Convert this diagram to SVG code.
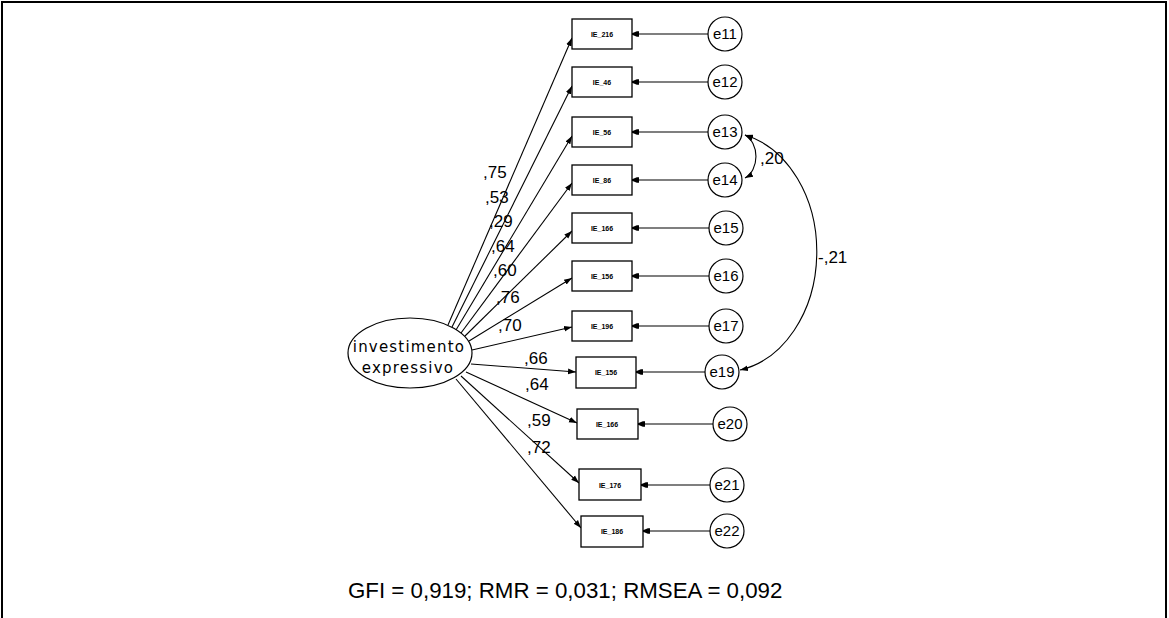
<svg xmlns="http://www.w3.org/2000/svg" width="1169" height="618" viewBox="0 0 1169 618">
<style>
.bx{fill:#fff;stroke:#000;stroke-width:1.3}
.er{fill:#fff;stroke:#000;stroke-width:1.2}
.ln{fill:none;stroke:#000;stroke-width:1.1}
.bt{font-family:"Liberation Sans",Arial,sans-serif;font-size:7px;font-weight:bold;text-anchor:middle;fill:#000}
.et{font-family:"Liberation Sans",Arial,sans-serif;font-size:15px;text-anchor:middle}
.lb{font-family:"Liberation Sans",Arial,sans-serif;font-size:17px}
.lt{font-family:"DejaVu Sans",sans-serif;font-size:15px;letter-spacing:1.2px;text-anchor:middle}
.cap{font-family:"Liberation Sans",Arial,sans-serif;font-size:22.3px}
</style>
<defs>
<marker id="ah" viewBox="0 0 10 10" refX="10" refY="5" markerWidth="8" markerHeight="8" markerUnits="userSpaceOnUse" orient="auto-start-reverse">
<path d="M0,1.5 L10,5 L0,8.5 z" fill="#000"/>
</marker>
<marker id="sq" viewBox="0 0 10 10" refX="10" refY="5" markerWidth="7" markerHeight="7" markerUnits="userSpaceOnUse" orient="auto">
<path d="M0,1 L3,1 L10,4 L10,6 L3,9 L0,9 z" fill="#000"/>
</marker>
</defs>
<rect width="1169" height="618" fill="#fff"/>
<path d="M2,618 V2 H1166 V618" fill="none" stroke="#000" stroke-width="2"/>

<g id="connectors">
<line class="ln" x1="448" y1="325" x2="572" y2="38" marker-end="url(#ah)"/>
<line class="ln" x1="452" y1="327" x2="572" y2="86" marker-end="url(#ah)"/>
<line class="ln" x1="456" y1="330" x2="572" y2="136" marker-end="url(#ah)"/>
<line class="ln" x1="461" y1="333" x2="572" y2="183" marker-end="url(#ah)"/>
<line class="ln" x1="465" y1="336" x2="572" y2="231" marker-end="url(#ah)"/>
<line class="ln" x1="469" y1="341" x2="572" y2="278" marker-end="url(#ah)"/>
<line class="ln" x1="472" y1="350" x2="572" y2="327" marker-end="url(#ah)"/>
<line class="ln" x1="471" y1="364" x2="576" y2="372" marker-end="url(#ah)"/>
<line class="ln" x1="466" y1="372" x2="577" y2="423" marker-end="url(#ah)"/>
<line class="ln" x1="461" y1="376" x2="579" y2="483" marker-end="url(#ah)"/>
<line class="ln" x1="456" y1="379" x2="581" y2="528" marker-end="url(#ah)"/>

<line class="ln" x1="708" y1="34" x2="632" y2="34" marker-end="url(#sq)"/>
<line class="ln" x1="708" y1="82" x2="632" y2="82" marker-end="url(#sq)"/>
<line class="ln" x1="708" y1="132" x2="632" y2="132" marker-end="url(#sq)"/>
<line class="ln" x1="708" y1="180" x2="632" y2="180" marker-end="url(#sq)"/>
<line class="ln" x1="709" y1="228" x2="632" y2="228" marker-end="url(#sq)"/>
<line class="ln" x1="709" y1="276" x2="632" y2="276" marker-end="url(#sq)"/>
<line class="ln" x1="709" y1="326" x2="632" y2="326" marker-end="url(#sq)"/>
<line class="ln" x1="705" y1="372" x2="636" y2="372" marker-end="url(#sq)"/>
<line class="ln" x1="713" y1="424" x2="638" y2="424" marker-end="url(#sq)"/>
<line class="ln" x1="710" y1="485" x2="641" y2="485" marker-end="url(#sq)"/>
<line class="ln" x1="710" y1="531" x2="643" y2="531" marker-end="url(#sq)"/>

<path class="ln" d="M745,135 A17,23 0 0 1 745,178" marker-start="url(#ah)" marker-end="url(#ah)"/>
<path class="ln" d="M745,135 A93,120 0 0 1 740,370" marker-start="url(#ah)" marker-end="url(#ah)"/>
</g>

<g id="labels">
<text class="lb" x="483" y="178">,75</text>
<text class="lb" x="485" y="203">,53</text>
<text class="lb" x="489" y="227">,29</text>
<text class="lb" x="491" y="252">,64</text>
<text class="lb" x="493" y="276">,60</text>
<text class="lb" x="496" y="303">,76</text>
<text class="lb" x="498" y="331">,70</text>
<text class="lb" x="524" y="364">,66</text>
<text class="lb" x="525" y="390">,64</text>
<text class="lb" x="527" y="426">,59</text>
<text class="lb" x="527" y="453">,72</text>
<text class="lb" x="760" y="164">,20</text>
<text class="lb" x="818" y="263">-,21</text>
</g>

<g id="latent">
<ellipse cx="410" cy="353" rx="62" ry="35" fill="#fff" stroke="#000" stroke-width="1.2"/>
<text class="lt" x="409" y="352">investimento</text>
<text class="lt" x="408" y="373">expressivo</text>
</g>

<g id="item1"><rect class="bx" x="572" y="19" width="60" height="30"/><text class="bt" x="602" y="37">IE_216</text></g>
<g id="item2"><rect class="bx" x="572" y="67" width="60" height="30"/><text class="bt" x="602" y="85">IE_46</text></g>
<g id="item3"><rect class="bx" x="572" y="117" width="60" height="30"/><text class="bt" x="602" y="135">IE_56</text></g>
<g id="item4"><rect class="bx" x="572" y="165" width="60" height="30"/><text class="bt" x="602" y="183">IE_86</text></g>
<g id="item5"><rect class="bx" x="572" y="213" width="60" height="30"/><text class="bt" x="602" y="231">IE_166</text></g>
<g id="item6"><rect class="bx" x="572" y="261" width="60" height="30"/><text class="bt" x="602" y="279">IE_156</text></g>
<g id="item7"><rect class="bx" x="572" y="311" width="60" height="30"/><text class="bt" x="602" y="329">IE_196</text></g>
<g id="item8"><rect class="bx" x="576" y="357" width="60" height="31"/><text class="bt" x="606" y="375">IE_156</text></g>
<g id="item9"><rect class="bx" x="577" y="409" width="61" height="30"/><text class="bt" x="607" y="427">IE_166</text></g>
<g id="item10"><rect class="bx" x="579" y="469" width="62" height="31"/><text class="bt" x="610" y="488">IE_176</text></g>
<g id="item11"><rect class="bx" x="581" y="516" width="62" height="31"/><text class="bt" x="612" y="534">IE_186</text></g>

<g id="e11"><circle class="er" cx="725" cy="34" r="17"/><text class="et" x="725" y="39">e11</text></g>
<g id="e12"><circle class="er" cx="725" cy="82" r="17"/><text class="et" x="725" y="87">e12</text></g>
<g id="e13"><circle class="er" cx="725" cy="132" r="17"/><text class="et" x="725" y="137">e13</text></g>
<g id="e14"><circle class="er" cx="725" cy="180" r="17"/><text class="et" x="725" y="185">e14</text></g>
<g id="e15"><circle class="er" cx="726" cy="228" r="17"/><text class="et" x="726" y="233">e15</text></g>
<g id="e16"><circle class="er" cx="726" cy="276" r="17"/><text class="et" x="726" y="281">e16</text></g>
<g id="e17"><circle class="er" cx="726" cy="326" r="17"/><text class="et" x="726" y="331">e17</text></g>
<g id="e19"><circle class="er" cx="722" cy="372" r="17"/><text class="et" x="722" y="377">e19</text></g>
<g id="e20"><circle class="er" cx="730" cy="424" r="17"/><text class="et" x="730" y="429">e20</text></g>
<g id="e21"><circle class="er" cx="727" cy="485" r="17"/><text class="et" x="727" y="490">e21</text></g>
<g id="e22"><circle class="er" cx="727" cy="531" r="17"/><text class="et" x="727" y="536">e22</text></g>

<text class="cap" x="348" y="598">GFI = 0,919; RMR = 0,031; RMSEA = 0,092</text>
</svg>
